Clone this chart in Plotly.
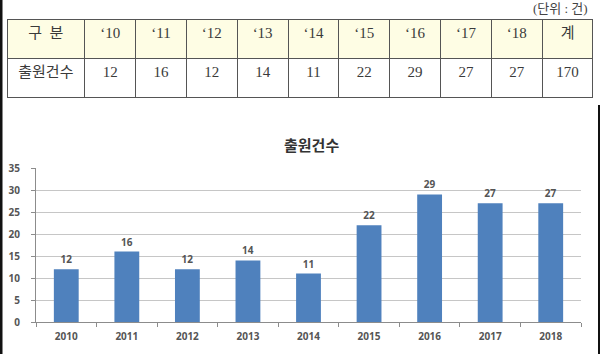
import plotly.graph_objects as go

years = ["2010", "2011", "2012", "2013", "2014", "2015", "2016", "2017", "2018"]
counts = [12, 16, 12, 14, 11, 22, 29, 27, 27]
table_header = ["구\u00a0\u00a0분", "‘10", "‘11", "‘12", "‘13", "‘14", "‘15", "‘16", "‘17", "‘18", "계"]
row_label = "출원건수"
total = 170
chart_title = "출원건수"
unit_note = "(단위 : 건)"

W, H = 600, 354

def px(x):
    return x / W

def py(y):
    return 1 - y / H

fig = go.Figure()

table_font = dict(family="Liberation Serif, Noto Sans CJK KR, serif", size=15, color="#3a3a3a")
fig.add_trace(go.Table(
    domain=dict(x=[px(7), px(593)], y=[py(98), py(19)]),
    columnwidth=[78] + [51] * 10,
    header=dict(
        values=table_header,
        fill_color="#FEFDE4",
        line=dict(color="#555555", width=1),
        align="center",
        height=39,
        font=table_font,
    ),
    cells=dict(
        values=[[row_label]] + [[v] for v in counts] + [[total]],
        fill_color="#FFFFFF",
        line=dict(color="#555555", width=1),
        align="center",
        height=39,
        font=table_font,
    ),
))

fig.add_trace(go.Bar(
    x=years,
    y=counts,
    marker=dict(color="#4F81BD", line=dict(width=0)),
    text=counts,
    textposition="outside",
    cliponaxis=False,
    textfont=dict(family="Noto Sans, sans-serif", size=10, color="#555555", weight="bold"),
    width=0.41,
))

fig.update_layout(
    width=W, height=H,
    margin=dict(l=0, r=0, t=0, b=0),
    paper_bgcolor="white",
    plot_bgcolor="white",
    showlegend=False,
    xaxis=dict(
        domain=[px(36), px(581)],
        type="category",
        showline=True, linecolor="#8c8c8c", linewidth=1,
        ticks="outside", tickson="boundaries", ticklen=4, tickcolor="#8c8c8c",
        tickfont=dict(family="Noto Sans, sans-serif", size=10, color="#555555", weight="bold"),
        showgrid=False,
        automargin=False,
        ticklabelstandoff=5,
        anchor="y",
    ),
    yaxis=dict(
        domain=[py(322), py(168)],
        range=[0, 35], dtick=5,
        showline=True, linecolor="#8c8c8c", linewidth=1,
        ticks="outside", ticklen=4, tickcolor="#8c8c8c",
        showgrid=True, gridcolor="#c6c6c6", gridwidth=1,
        zeroline=False,
        automargin=False,
        ticklabelstandoff=9,
        tickfont=dict(family="Noto Sans, sans-serif", size=10, color="#555555", weight="bold"),
        anchor="x",
    ),
    annotations=[
        dict(text=chart_title, xref="paper", yref="paper", x=px(311), y=py(145),
             xanchor="center", yanchor="middle", showarrow=False,
             font=dict(family="Noto Sans CJK KR, sans-serif", size=15, color="#333333", weight="bold")),
        dict(text=unit_note, xref="paper", yref="paper", x=px(590), y=py(8),
             xanchor="right", yanchor="middle", showarrow=False,
             font=dict(family="Liberation Serif, Noto Sans CJK KR, serif", size=13, color="#444444")),
    ],
    shapes=[
        dict(type="rect", xref="paper", yref="paper", x0=0, x1=px(2.5), y0=0, y1=1,
             fillcolor="#111111", line=dict(width=0)),
        dict(type="rect", xref="paper", yref="paper", x0=px(598), x1=1, y0=0, y1=py(105),
             fillcolor="#111111", line=dict(width=0)),
    ],
)

fig.write_html("out.html")
